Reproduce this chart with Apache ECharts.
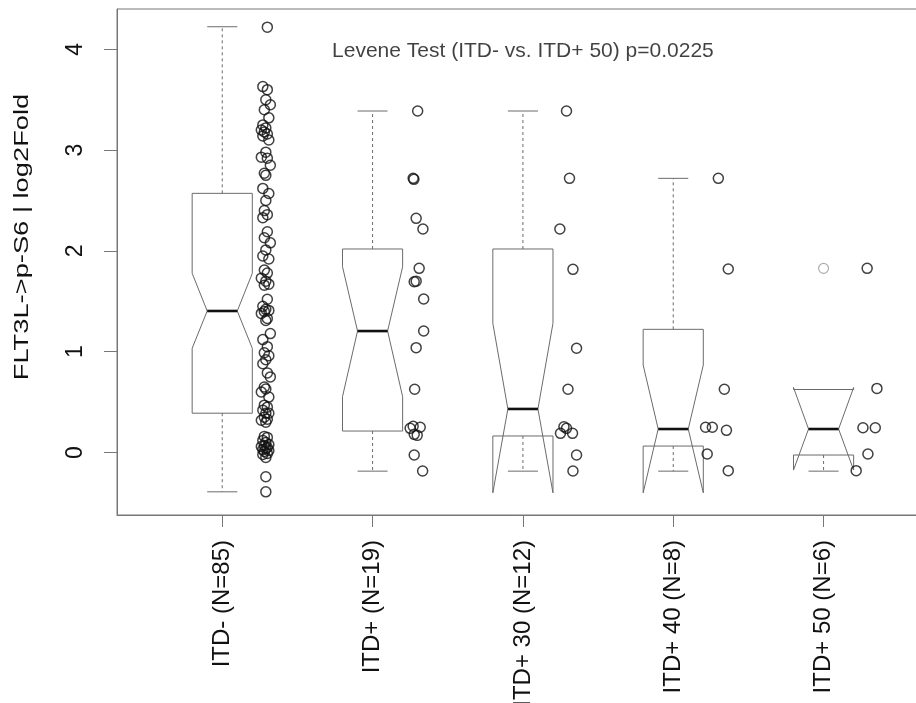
<!DOCTYPE html>
<html>
<head>
<meta charset="utf-8">
<script src="https://cdn.jsdelivr.net/npm/echarts@6/dist/echarts.min.js"></script>
<style>
  html, body { margin: 0; padding: 0; background: #fff; }
  #chart { width: 916px; height: 703px; }
</style>
</head>
<body>
<div id="chart"></div>
<script>
// groups on the x axis
const groupNames = ['ITD- (N=85)', 'ITD+ (N=19)', 'ITD+ 30 (N=12)', 'ITD+ 40 (N=8)', 'ITD+ 50 (N=6)'];
const groupPos = [1, 2, 3, 4, 5];

// box statistics
const whiskerLow = [-0.39, -0.185, -0.185, -0.185, -0.185];
const hingeLow = [0.39, 0.213, 0.164, 0.064, -0.025];
const notchLow = [1.034, 0.554, -0.40, -0.40, -0.174];
const medians = [1.404, 1.205, 0.432, 0.233, 0.233];
const notchHigh = [1.778, 1.843, 1.282, 0.868, 0.645];
const hingeHigh = [2.571, 2.019, 2.019, 1.222, 0.625];
const whiskerHigh = [4.224, 3.388, 3.388, 2.72, 0.625];

// raw points drawn beside each box (value, x offset from the box)
const valsItdNeg = [4.22, 3.63, 3.60, 3.50, 3.45, 3.40, 3.32, 3.25, 3.22, 3.20,
  3.18, 3.16, 3.14, 3.10, 2.98, 2.93, 2.92, 2.85, 2.77, 2.75,
  2.62, 2.57, 2.50, 2.40, 2.36, 2.33, 2.19, 2.13, 2.08, 2.01,
  1.95, 1.92, 1.81, 1.78, 1.73, 1.70, 1.67, 1.66, 1.52, 1.45,
  1.42, 1.41, 1.40, 1.38, 1.33, 1.31, 1.18, 1.12, 1.05, 0.99,
  0.96, 0.92, 0.88, 0.79, 0.75, 0.65, 0.63, 0.60, 0.55, 0.47,
  0.45, 0.42, 0.39, 0.39, 0.35, 0.33, 0.32, 0.30, 0.16, 0.15,
  0.12, 0.10, 0.08, 0.07, 0.06, 0.05, 0.04, 0.03, 0.02, 0.01,
  -0.01, -0.02, -0.05, -0.24, -0.39];
const offItdNeg = [0.30, 0.27, 0.30, 0.29, 0.32, 0.28, 0.31, 0.27, 0.29, 0.26,
  0.28, 0.30, 0.27, 0.31, 0.29, 0.26, 0.30, 0.32, 0.28, 0.29,
  0.27, 0.31, 0.29, 0.28, 0.30, 0.27, 0.30, 0.28, 0.32, 0.29,
  0.27, 0.31, 0.28, 0.30, 0.26, 0.29, 0.31, 0.28, 0.30, 0.27,
  0.29, 0.31, 0.28, 0.26, 0.30, 0.29, 0.32, 0.27, 0.30, 0.28,
  0.31, 0.29, 0.27, 0.30, 0.32, 0.28, 0.29, 0.26, 0.31, 0.28,
  0.30, 0.27, 0.29, 0.31, 0.28, 0.30, 0.26, 0.29, 0.28, 0.30,
  0.27, 0.29, 0.31, 0.28, 0.26, 0.30, 0.29, 0.27, 0.31, 0.28,
  0.30, 0.27, 0.29, 0.29, 0.29];

const valsItdPos = [3.388, 2.72, 2.71, 2.323, 2.217, 1.827, 1.70, 1.694, 1.523, 1.205,
  1.04, 0.627, 0.26, 0.25, 0.24, 0.18, 0.17, -0.025, -0.184];
const offItdPos = [0.30, 0.27, 0.275, 0.29, 0.335, 0.31, 0.29, 0.277, 0.34, 0.34,
  0.29, 0.28, 0.27, 0.317, 0.25, 0.277, 0.297, 0.277, 0.333];

const valsItd30 = [3.388, 2.72, 2.217, 1.817, 1.034, 0.627, 0.256, 0.24, 0.19, 0.19, -0.025, -0.184];
const offItd30 = [0.29, 0.31, 0.246, 0.333, 0.357, 0.30, 0.273, 0.29, 0.25, 0.33, 0.357, 0.333];

const valsItd40 = [2.72, 1.82, 0.627, 0.25, 0.25, 0.22, -0.015, -0.18];
const offItd40 = [0.30, 0.366, 0.34, 0.215, 0.26, 0.354, 0.226, 0.366];

const valsItd50 = [1.827, 0.636, 0.246, 0.246, -0.015, -0.18];
const offItd50 = [0.29, 0.355, 0.262, 0.344, 0.295, 0.217];

// boxplot outlier (grey circle on the box axis)
const outliers = [[5, 1.827]];

const titleText = 'Levene Test (ITD- vs. ITD+ 50) p=0.0225';
const yName = 'FLT3L->p-S6 | log2Fold';
const yTicks = [0, 1, 2, 3, 4];

const FONT = '"Liberation Sans", Arial, sans-serif';
const BOX_COLOR = '#6b6b6b';
const AXIS_COLOR = '#777';

const pointSets = [
  [valsItdNeg, offItdNeg], [valsItdPos, offItdPos], [valsItd30, offItd30],
  [valsItd40, offItd40], [valsItd50, offItd50]
];
const pointData = [];
pointSets.forEach(([vals, offs], i) => {
  vals.forEach((v, j) => pointData.push([groupPos[i] + offs[j], v]));
});

const boxData = groupPos.map((x, i) => [x, whiskerLow[i], hingeLow[i], notchLow[i], medians[i],
  notchHigh[i], hingeHigh[i], whiskerHigh[i]]);

// R style notched box: polygon, median, dashed whiskers and staples
function renderBox(params, api) {
  const x = api.value(0);
  const lo = api.value(1), q1 = api.value(2), nlo = api.value(3), med = api.value(4);
  const nhi = api.value(5), q3 = api.value(6), hi = api.value(7);
  const w = 0.2;
  const p = (dx, v) => api.coord([x + dx, v]);
  const line = { stroke: BOX_COLOR, lineWidth: 1, fill: null };
  const dashed = { stroke: BOX_COLOR, lineWidth: 1, lineDash: [3, 3], fill: null };
  const seg = (a, b, style) => ({
    type: 'line',
    shape: { x1: a[0], y1: a[1], x2: b[0], y2: b[1] },
    style: style
  });
  return {
    type: 'group',
    children: [
      seg(p(0, q3), p(0, hi), dashed),
      seg(p(0, q1), p(0, lo), dashed),
      seg(p(-w / 2, hi), p(w / 2, hi), line),
      seg(p(-w / 2, lo), p(w / 2, lo), line),
      {
        type: 'polygon',
        shape: {
          points: [p(-w, q1), p(-w, nlo), p(-w / 2, med), p(-w, nhi), p(-w, q3),
            p(w, q3), p(w, nhi), p(w / 2, med), p(w, nlo), p(w, q1)]
        },
        style: line
      },
      seg(p(-w / 2, med), p(w / 2, med), { stroke: '#111', lineWidth: 2.6 })
    ]
  };
}

const chart = echarts.init(document.getElementById('chart'), null, { renderer: 'canvas' });

const option = {
  animation: false,
  backgroundColor: '#fff',
  grid: {
    left: 117, top: 9, width: 810, height: 506,
    show: true, borderColor: AXIS_COLOR, borderWidth: 1,
    outerBoundsMode: 'none'
  },
  // y axis title, stretched along its length like the source picture
  graphic: [{
    type: 'text',
    x: 22, y: 237,
    rotation: Math.PI / 2,
    scaleX: 1.3,
    silent: true,
    style: {
      text: yName,
      font: '21px ' + FONT,
      fill: '#111',
      align: 'center',
      verticalAlign: 'middle'
    }
  }],
  xAxis: {
    type: 'value',
    min: 0.3, max: 5.688,
    splitLine: { show: false },
    axisLine: { show: true, onZero: false, lineStyle: { color: AXIS_COLOR } },
    axisTick: { show: true, customValues: groupPos, length: 12, lineStyle: { color: AXIS_COLOR } },
    axisLabel: {
      customValues: groupPos,
      rotate: 90,
      margin: 25,
      fontSize: 24,
      fontFamily: FONT,
      color: '#111',
      formatter: v => groupNames[Math.round(v) - 1]
    }
  },
  yAxis: {
    type: 'value',
    min: -0.62, max: 4.40,
    splitLine: { show: false },
    axisLine: { show: true, lineStyle: { color: AXIS_COLOR } },
    axisTick: { show: true, customValues: yTicks, length: 13, lineStyle: { color: AXIS_COLOR } },
    axisLabel: {
      customValues: yTicks,
      rotate: 90,
      margin: 30,
      fontSize: 23,
      fontFamily: FONT,
      color: '#111'
    }
  },
  series: [
    {
      type: 'custom',
      renderItem: renderBox,
      data: boxData,
      z: 2
    },
    {
      type: 'scatter',
      data: pointData,
      symbol: 'circle',
      symbolSize: 10,
      itemStyle: { color: 'rgba(0,0,0,0)', borderColor: '#111', borderWidth: 1.5 },
      z: 3
    },
    {
      type: 'scatter',
      data: outliers,
      symbol: 'circle',
      symbolSize: 10,
      itemStyle: { color: 'rgba(0,0,0,0)', borderColor: '#999', borderWidth: 1.2 },
      z: 3
    },
    {
      type: 'scatter',
      data: [[3, 3.98]],
      symbolSize: 0,
      silent: true,
      label: {
        show: true,
        position: 'inside',
        formatter: titleText,
        fontSize: 21,
        fontFamily: FONT,
        color: '#111'
      }
    }
  ]
};

chart.setOption(option);
</script>
</body>
</html>
